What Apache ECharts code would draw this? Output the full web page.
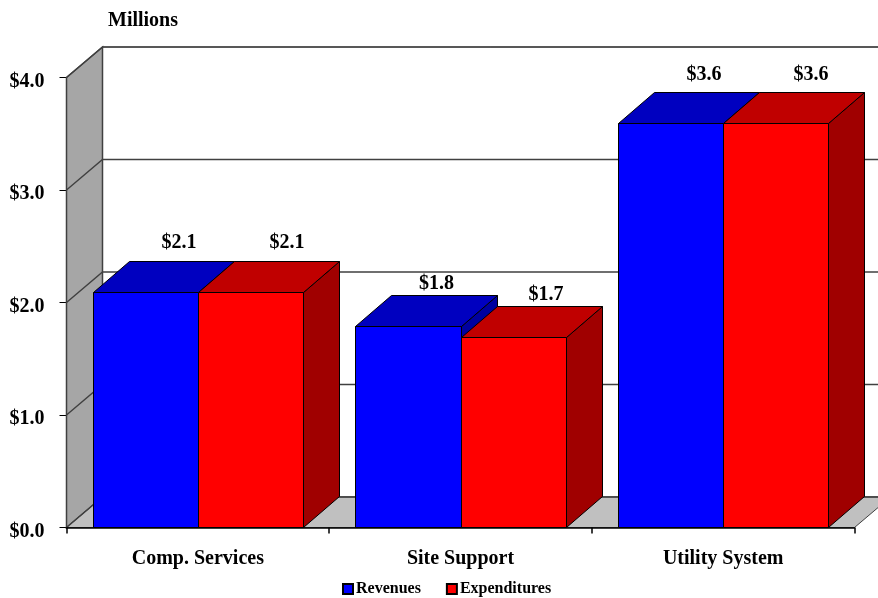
<!DOCTYPE html>
<html>
<head>
<meta charset="utf-8">
<style>html,body{margin:0;padding:0;background:#fff}#c{width:878px;height:598px}</style>
<script src="https://cdn.jsdelivr.net/npm/echarts@6/dist/echarts.min.js"></script>
</head>
<body>
<div id="c"></div>
<script>
const categories = ['Comp. Services', 'Site Support', 'Utility System'];
const revenues = [2.09, 1.79, 3.6];
const expenditures = [2.09, 1.69, 3.6];
const yTicks = [0, 1, 2, 3, 4];
const unitTitle = 'Millions';

const FONT = '"Liberation Serif","Times New Roman",serif';
const DX = 36, DY = 31, WALL_DY = 30.5;
const EDGE = '#000';
const WALL_EDGE = '#404040';
const money = v => '$' + v.toFixed(1);

function barRenderer(side, front, topCol, sideCol) {
  return function (params, api) {
    const i = api.value(0), v = api.value(1);
    const base = api.coord([i, 0]), tip = api.coord([i, v]);
    const w = api.size([1, 0])[0] * 0.4;
    const x0 = Math.round(side < 0 ? base[0] - w : base[0]) + 0.5;
    const x1 = Math.round(side < 0 ? base[0] : base[0] + w) + 0.5;
    const y0 = base[1], y1 = Math.round(tip[1]) + 0.5;
    const st = (fill) => ({ fill: fill, stroke: EDGE, lineWidth: 1 });
    // hand placement of the value labels above each bar's back edge
    const low = v < 1.85;
    const lift = low ? 12 : (v > 3 ? 18 : 19);
    const nudge = low ? (side < 0 ? -8 : -4) : (side < 0 ? -3 : (v > 3 ? -1 : 0));
    return {
      type: 'group',
      children: [
        { type: 'polygon', shape: { points: [[x1, y0], [x1 + DX, y0 - DY], [x1 + DX, y1 - DY], [x1, y1]] }, style: st(sideCol) },
        { type: 'polygon', shape: { points: [[x0, y1], [x0 + DX, y1 - DY], [x1 + DX, y1 - DY], [x1, y1]] }, style: st(topCol) },
        { type: 'rect', shape: { x: x0, y: y1, width: x1 - x0, height: y0 - y1 }, style: st(front) },
        { type: 'text', style: {
            x: (x0 + x1) / 2 + DX + nudge, y: y1 - DY - lift,
            text: money(v), fill: '#000', font: 'bold 20px ' + FONT,
            align: 'center', verticalAlign: 'middle' } }
      ]
    };
  };
}

const option = {
  animation: false,
  backgroundColor: '#fff',
  title: {
    text: unitTitle, left: 103, top: 6,
    textStyle: { fontFamily: FONT, fontWeight: 'bold', fontSize: 20, color: '#000' }
  },
  legend: {
    data: ['Revenues', 'Expenditures'],
    left: 337, top: 576, itemWidth: 10, itemHeight: 10, itemGap: 25, icon: 'rect',
    textStyle: { fontFamily: FONT, fontWeight: 'bold', fontSize: 16, color: '#000', padding: [0, 0, 0, -2] },
    itemStyle: { borderColor: '#000', borderWidth: 2 }
  },
  grid: { left: 66.5, right: 23.5, top: 77.5, height: 450 },
  xAxis: {
    type: 'category', data: categories, z: 10,
    axisLine: { lineStyle: { color: '#000', width: 1.5 } },
    axisTick: { show: true, length: 6, lineStyle: { color: '#000', width: 1.5 } },
    axisLabel: { color: '#000', fontFamily: FONT, fontWeight: 'bold', fontSize: 20, margin: 21 }
  },
  yAxis: {
    type: 'value', min: 0, max: 4, interval: 1,
    splitLine: { show: false },
    axisLine: { show: false },
    axisTick: { show: true, length: 7, lineStyle: { color: '#000', width: 1 } },
    axisLabel: { color: '#000', fontFamily: FONT, fontWeight: 'bold', fontSize: 20, margin: 22, verticalAlign: 'top', lineHeight: 8, formatter: money }
  },
  series: [
    {
      type: 'custom', name: 'walls', z: 1, silent: true, clip: false,
      data: [0],
      renderItem: function (params) {
        const c = params.coordSys;
        const L = c.x, T = c.y, B = c.y + c.height, R = c.x + c.width;
        return {
          type: 'group',
          children: [
            { type: 'polygon', shape: { points: [[L + DX, T - WALL_DY], [R + DX, T - WALL_DY], [R + DX, B - WALL_DY], [L + DX, B - WALL_DY]] },
              style: { fill: '#fff', stroke: WALL_EDGE, lineWidth: 1 } },
            { type: 'polygon', shape: { points: [[L, T], [L + DX, T - WALL_DY], [L + DX, B - WALL_DY], [L, B]] },
              style: { fill: '#A6A6A6', stroke: WALL_EDGE, lineWidth: 1.5 } },
            { type: 'polygon', shape: { points: [[L, B], [L + DX, B - WALL_DY], [R + DX, B - WALL_DY], [R, B]] },
              style: { fill: '#C0C0C0', stroke: WALL_EDGE, lineWidth: 1 } }
          ]
        };
      }
    },
    {
      type: 'custom', name: 'gridlines', z: 1, silent: true, clip: false,
      data: yTicks.map(t => [t]),
      encode: { y: 0 },
      renderItem: function (params, api) {
        const c = params.coordSys;
        const y = api.coord([0, api.value(0)])[1];
        const L = c.x, R = c.x + c.width;
        return {
          type: 'polyline',
          shape: { points: [[L, y], [L + DX, y - WALL_DY], [R + DX, y - WALL_DY]] },
          style: { fill: null, stroke: WALL_EDGE, lineWidth: 1.4 }
        };
      }
    },
    {
      type: 'custom', name: 'Revenues', z: 3, clip: false,
      itemStyle: { color: '#0000FF' },
      data: revenues.map((v, i) => [i, v]),
      encode: { x: 0, y: 1 },
      renderItem: barRenderer(-1, '#0000FF', '#0000C0', '#0000A0')
    },
    {
      type: 'custom', name: 'Expenditures', z: 4, clip: false,
      itemStyle: { color: '#FF0000' },
      data: expenditures.map((v, i) => [i, v]),
      encode: { x: 0, y: 1 },
      renderItem: barRenderer(1, '#FF0000', '#C00000', '#A00000')
    }
  ]
};
echarts.init(document.getElementById('c'), null, { renderer: 'canvas' }).setOption(option);
</script>
</body>
</html>
